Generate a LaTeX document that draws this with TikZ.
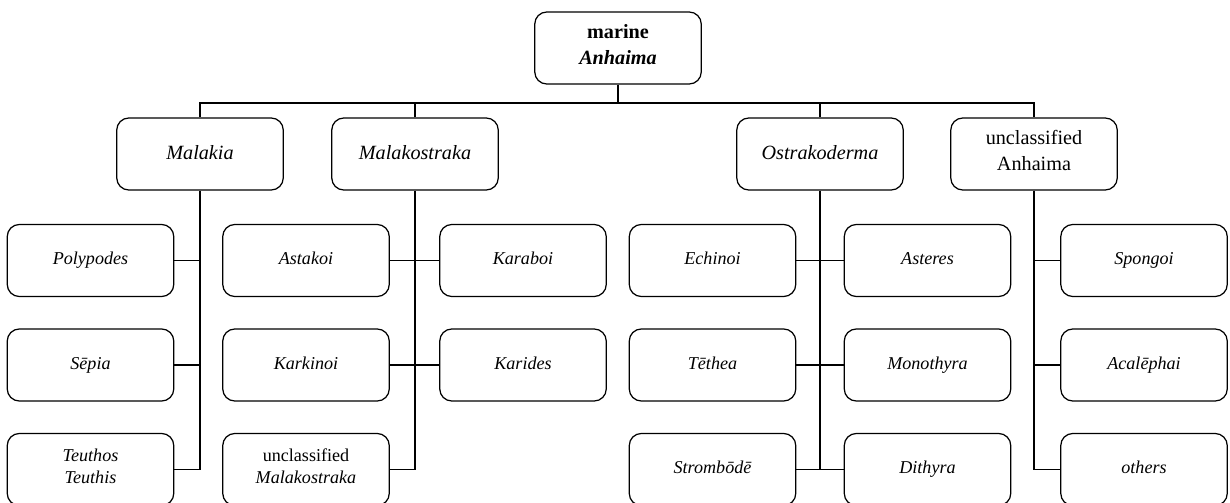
\documentclass[tikz,border=0pt]{standalone}
\usepackage{fontspec}
\setmainfont{Liberation Serif}
\usetikzlibrary{shapes,arrows}
\tikzstyle{block} = [rectangle, draw, line width=0.7pt, text centered, align=center,
    rounded corners=0.24cm, inner sep=0pt, minimum width=3.33cm, minimum height=1.44cm,
    execute at begin node=\strut, execute at end node=\strut]
\tikzstyle{group} = [block, font=\fontsize{11.5}{14.8}\selectfont]
\tikzstyle{leaf} = [block, font=\fontsize{10.3}{12.4}\selectfont\itshape]
\tikzstyle{line} = [draw, line width=0.7pt]

\begin{document}
\begin{tikzpicture}[x=0.02cm, y=-0.02cm]
		\useasboundingbox (0,0) rectangle (1230,503);
		% root and groups
		\node [group] (marine) at (618,48) {\textbf{marine}\\\textbf{\textit{Anhaima}}};
		\node [group] (malakia) at (200,154) {\textit{Malakia}};
		\node [group] (malakostraka) at (415,154) {\textit{Malakostraka}};
		\node [group] (ostrakoderma) at (820,154) {\textit{Ostrakoderma}};
		\node [group] (uanhaima) at (1034,154) {unclassified\\Anhaima};
		\coordinate (bus) at (618,103);
		
		% leaves
		\node [leaf] (polypodes) at (90.5,260.5) {Polypodes};
		\node [leaf] (sepia) at (90.5,365) {Sēpia};
		\node [leaf] (teuthos) at (90.5,469.5) {Teuthos\\Teuthis};
		\node [leaf] (astakoi) at (306,260.5) {Astakoi};
		\node [leaf] (karkinoi) at (306,365) {Karkinoi};
		\node [leaf] (umalak) at (306,469.5) {\upshape unclassified\\\itshape Malakostraka};
		\node [leaf] (karaboi) at (523,260.5) {Karaboi};
		\node [leaf] (karides) at (523,365) {Karides};
		\node [leaf] (echinoi) at (712.5,260.5) {Echinoi};
		\node [leaf] (tethea) at (712.5,365) {Tēthea};
		\node [leaf] (strombode) at (712.5,469.5) {Strombōdē};
		\node [leaf] (asteres) at (927.5,260.5) {Asteres};
		\node [leaf] (monothyra) at (927.5,365) {Monothyra};
		\node [leaf] (dithyra) at (927.5,469.5) {Dithyra};
		\node [leaf] (spongoi) at (1144,260.5) {Spongoi};
		\node [leaf] (acalephai) at (1144,365) {Acalēphai};
		\node [leaf] (others) at (1144,469.5) {others};
		
		% top level
		\path [line] (marine) -- (bus);
		\path [line] (malakia.north) |- (bus) -| (uanhaima.north);
		\path [line] (malakostraka.north) -- (malakostraka.north |- bus);
		\path [line] (ostrakoderma.north) -- (ostrakoderma.north |- bus);
		
		% Malakia
		\path [line] (malakia.south) |- (teuthos.east);
		\path [line] (polypodes.east) -- (polypodes.east -| malakia.south);
		\path [line] (sepia.east) -- (sepia.east -| malakia.south);
		
		% Malakostraka
		\path [line] (malakostraka.south) |- (umalak.east);
		\path [line] (astakoi) -- (karaboi);
		\path [line] (karkinoi) -- (karides);
		
		% Ostrakoderma
		\path [line] (ostrakoderma.south) -- (ostrakoderma.south |- strombode.east);
		\path [line] (echinoi) -- (asteres);
		\path [line] (tethea) -- (monothyra);
		\path [line] (strombode) -- (dithyra);
		
		% unclassified Anhaima
		\path [line] (uanhaima.south) |- (others.west);
		\path [line] (spongoi.west) -- (spongoi.west -| uanhaima.south);
		\path [line] (acalephai.west) -- (acalephai.west -| uanhaima.south);
	\end{tikzpicture}
\end{document}
